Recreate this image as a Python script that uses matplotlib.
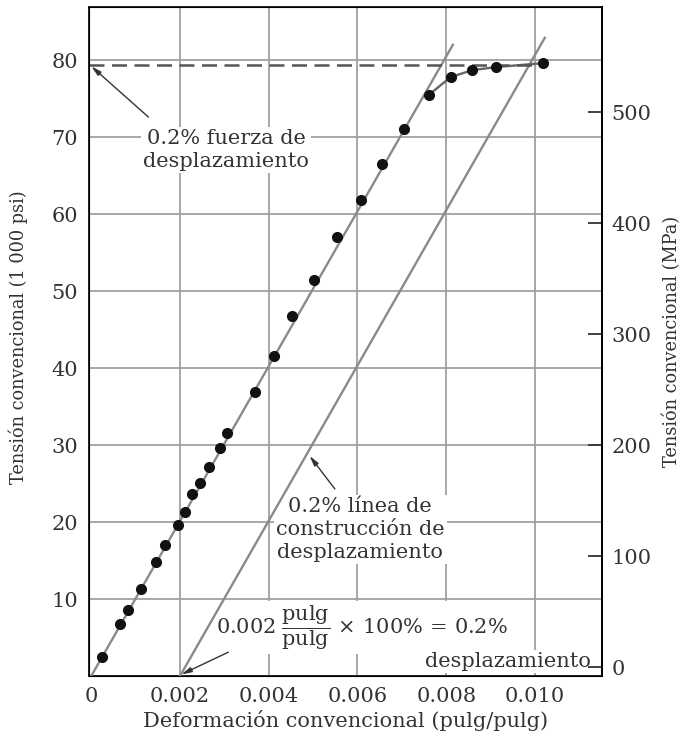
import numpy as np
import matplotlib
matplotlib.use('Agg')
import matplotlib.pyplot as plt

# Datos (deformacion en pulg/pulg, tension en 1000 psi)
strain = [0.00024, 0.00065, 0.00082, 0.00112, 0.00146, 0.00167, 0.00195,
          0.00211, 0.00227, 0.00245, 0.00266, 0.00291, 0.00306, 0.00370,
          0.00412, 0.00453, 0.00503, 0.00553, 0.00608, 0.00655, 0.00704,
          0.00761, 0.00810, 0.00859, 0.00912, 0.01017]
stress = [2.5, 6.7, 8.6, 11.3, 14.8, 17.0, 19.6, 21.3, 23.6, 25.1, 27.2,
          29.6, 31.6, 36.9, 41.6, 46.7, 51.4, 57.0, 61.8, 66.5, 71.1, 75.5,
          77.8, 78.7, 79.1, 79.6]

# recta elastica y recta paralela desplazada 0.002
elastic_x = [0.0, 0.00815]
elastic_y = [0.0, 82.0]
offset_x = [0.002, 0.01022]
offset_y = [0.0, 82.9]
yield_stress = 79.4

x_ticks = [0, 0.002, 0.004, 0.006, 0.008, 0.010]
x_labels = ['0', '0.002', '0.004', '0.006', '0.008', '0.010']
y_ticks = [10, 20, 30, 40, 50, 60, 70, 80]
mpa_ticks = [0, 100, 200, 300, 400, 500]

plt.rcParams['font.family'] = ['DejaVu Serif']
plt.rcParams['mathtext.fontset'] = 'dejavuserif'

txt = '#333333'
grid_c = '#a0a0a0'
line_c = '#8a8a8a'
fs = 15
fs_v = 12.8   # textos verticales

fig = plt.figure(figsize=(6.88, 7.38), dpi=100)
ax = fig.add_axes([0.1294, 0.084, 0.7456, 0.9065])

xmin, xmax = -0.00005, 0.01151
ymin, ymax = 0, 86.9
ax.set_xlim(xmin, xmax)
ax.set_ylim(ymin, ymax)

# rejilla
for gx in x_ticks[1:]:
    ax.axvline(gx, color=grid_c, lw=1.3, zorder=0)
for gy in y_ticks:
    ax.axhline(gy, color=grid_c, lw=1.3, zorder=0)

ax.plot(elastic_x, elastic_y, color=line_c, lw=1.7, zorder=3)
ax.plot(offset_x, offset_y, color=line_c, lw=1.7, zorder=3)
ax.plot(strain[21:], stress[21:], color='#666666', lw=1.7, zorder=3)
ax.plot([xmin, strain[-1]], [yield_stress, yield_stress], color='#555555',
        lw=1.8, ls=(0, (6, 3)), zorder=3)
ax.plot(strain, stress, 'o', color='#111111', ms=7, zorder=5)

ax.set_xticks(x_ticks)
ax.set_xticklabels(x_labels)
ax.set_yticks(y_ticks)
ax.tick_params(axis='both', length=0, labelsize=fs, labelcolor=txt, pad=8)
for s in ax.spines.values():
    s.set_linewidth(1.4)
    s.set_color('#222222')

ax.set_xlabel('Deformación convencional (pulg/pulg)', fontsize=fs, color=txt,
              labelpad=3)
ax.set_ylabel('Tensión convencional (1 000 psi)', fontsize=fs_v, color=txt)
ax.yaxis.set_label_coords(-0.118, 0.506)

# eje derecho en MPa
ax2 = ax.twinx()
ax2.set_ylim(-8.1, 594.6)
ax2.set_yticks(mpa_ticks)
ax2.tick_params(axis='y', direction='in', length=10, width=1.3,
                color='#333333', labelsize=fs, labelcolor=txt, pad=7)
ax2.spines['right'].set_linewidth(1.4)
ax2.set_ylabel('Tensión convencional (MPa)', fontsize=fs_v, color=txt,
               labelpad=8)

box = dict(boxstyle='square,pad=0.1', fc='white', ec='none')
arrow = dict(arrowstyle='-|>,head_length=0.6,head_width=0.15', color='#333333',
             lw=1.0, shrinkA=0, shrinkB=0)

ax.text(0.00304, 68.3, '0.2% fuerza de\ndesplazamiento', ha='center',
        va='center', fontsize=fs, color=txt, bbox=box, zorder=2,
        linespacing=1.25)
ax.annotate('', xy=(0.0, 79.2), xytext=(0.00129, 72.6), arrowprops=arrow,
            zorder=6)

ax.text(0.00606, 19.0, '0.2% línea de\nconstrucción de\ndesplazamiento',
        ha='center', va='center', fontsize=fs, color=txt, bbox=box, zorder=2,
        linespacing=1.25)
ax.annotate('', xy=(0.00492, 28.6), xytext=(0.00549, 24.3), arrowprops=arrow,
            zorder=6)

ax.text(0.00281, 6.3,
        r'$0.002\;\dfrac{\mathrm{pulg}}{\mathrm{pulg}}\,\times\,100\%\,=\,0.2\%$',
        ha='left', va='center', fontsize=fs, color=txt, bbox=box, zorder=2)
ax.text(0.01127, 1.9, 'desplazamiento', ha='right', va='center',
        fontsize=fs, color=txt, bbox=box, zorder=2)
ax.annotate('', xy=(0.00203, 0.2), xytext=(0.00309, 3.1), arrowprops=arrow,
            zorder=6)

fig.savefig('out.png', dpi=100)
